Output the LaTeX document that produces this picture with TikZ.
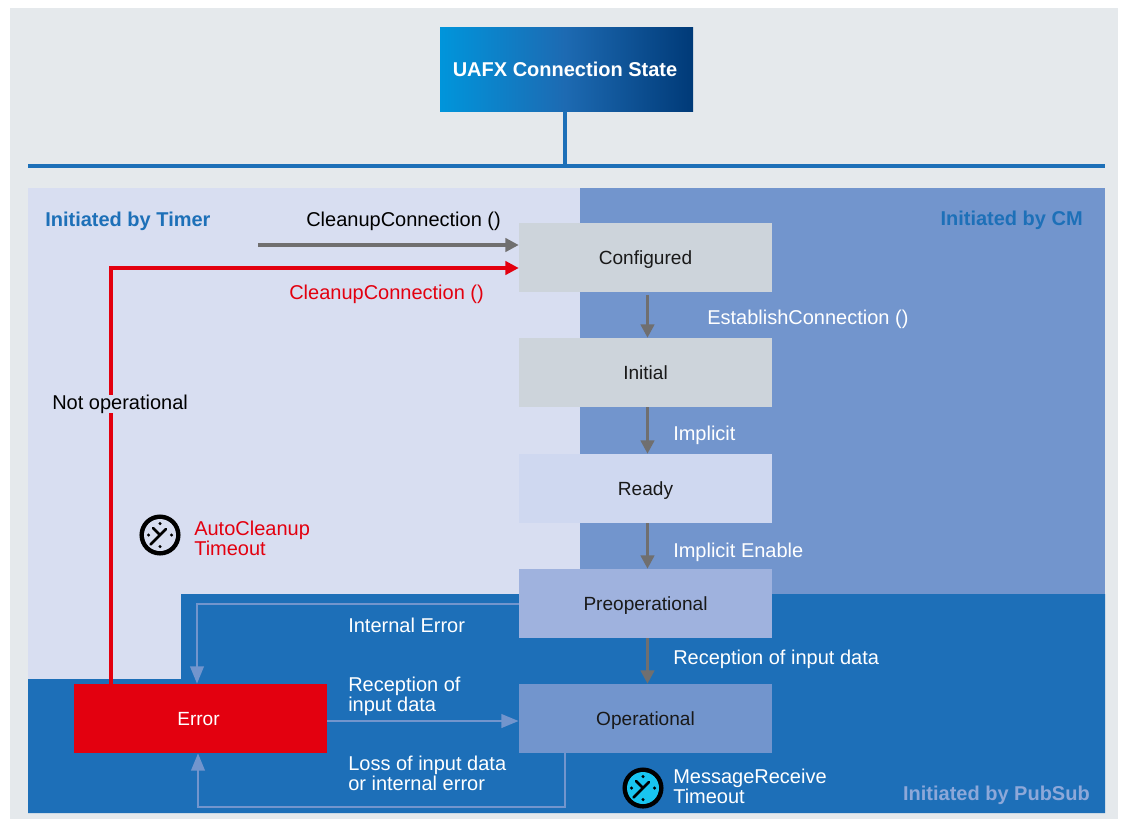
\documentclass[tikz,border=0pt]{standalone}
\usepackage{fontspec}
\setmainfont{Liberation Sans}
\usetikzlibrary{arrows.meta}
\definecolor{pagegray}{HTML}{E5E9EC}
\definecolor{timerbg}{HTML}{D8DEF1}
\definecolor{cmbg}{HTML}{7295CD}
\definecolor{pubbg}{HTML}{1D6FB8}
\definecolor{headblue}{HTML}{1D70B8}
\definecolor{boxgray}{HTML}{CDD4DB}
\definecolor{boxready}{HTML}{CFD8F0}
\definecolor{boxpre}{HTML}{9FB2DE}
\definecolor{boxop}{HTML}{7295CD}
\definecolor{errred}{HTML}{E3000F}
\definecolor{arrgray}{HTML}{706F6F}
\definecolor{lightarr}{HTML}{7295CD}
\definecolor{pubtext}{HTML}{8DA8D9}
\definecolor{clockcyan}{HTML}{18C5F0}
\definecolor{gradA}{HTML}{0095DB}
\definecolor{gradB}{HTML}{1D6AB2}
\definecolor{gradC}{HTML}{003A78}
\tikzset{
  x=0.75pt,y=-0.75pt,
  statebox/.style={minimum width=189.75pt,minimum height=51.75pt,inner sep=0pt,text height=10.3pt,text depth=0pt,font=\fontsize{14.3}{15}\selectfont,text=black!90},
  lbl/.style={anchor=west,inner sep=0pt,align=left,font=\fontsize{15}{15}\selectfont},
  head/.style={inner sep=0pt,font=\bfseries\fontsize{15}{15}\selectfont},
  grayarrow/.style={draw=arrgray,line width=2.4pt,-{Triangle[length=10pt,width=10pt]}},
  redarrow/.style={draw=errred,line width=2.3pt,-{Triangle[length=10pt,width=10pt]}},
  lightarrow/.style={draw=lightarr,line width=2.1pt,-{Triangle[length=13pt,width=10pt]}},
  busline/.style={draw=headblue,line width=2.3pt},
}
\newcommand{\clockicon}[3]{%
  \begin{scope}[shift={(#1,#2)}]
    \fill[black] (0,0) circle [radius=15.4pt];
    \fill[#3] (0,0) circle [radius=12pt];
    \fill[black] (0,-11.5) circle [radius=1.3pt] (0,11.5) circle [radius=1.3pt] (-11.5,0) circle [radius=1.3pt] (11.5,0) circle [radius=1.3pt];
    \draw[black,line width=1.9pt,line cap=round] (-9.5,9.5) -- (0,0) -- (6,-6) (0,0) -- (-7,-7);
  \end{scope}}
\begin{document}
\begin{tikzpicture}
\useasboundingbox (0,0) rectangle (1123,819);
\fill[white] (0,0) rectangle (1123,819);
\fill[pagegray] (10,8) rectangle (1118,819);
% regions
\fill[timerbg] (28,188) rectangle (580,679);
\fill[cmbg] (580,188) rectangle (1105,594);
\fill[pubbg] (181,594) -- (1105,594) -- (1105,813) -- (28,813) -- (28,679) -- (181,679) -- cycle;
% title
\fill[left color=gradA,right color=gradB] (440,27) rectangle (565,111);
\fill[left color=gradB,right color=gradC] (565,27) rectangle (693,111);
\node[inner sep=0pt,minimum width=189.75pt,minimum height=63pt,text=white,font=\bfseries\fontsize{15}{16}\selectfont] (title) at (565,69) {UAFX Connection State};
\coordinate (busL) at (28,166);
\coordinate (busR) at (1105,166);
\coordinate (busM) at (565,166);
\draw[busline] (busL) -- (busR);
\draw[busline] (busM) -- (busM |- title.south);
% states
\node[statebox,fill=boxgray] (conf) at (645.5,257.5) {Configured};
\node[statebox,fill=boxgray] (init) at (645.5,372.5) {Initial};
\node[statebox,fill=boxready] (ready) at (645.5,488.5) {Ready};
\node[statebox,fill=boxpre] (pre) at (645.5,603.5) {Preoperational};
\node[statebox,fill=boxop] (oper) at (645.5,718.5) {Operational};
\node[statebox,fill=errred,text=white] (err) at (200.5,718.5) {Error\kern3pt};
% vertical arrows
\coordinate (vA) at (647.5,0);
\draw[grayarrow,shorten <=2pt] (vA |- conf.south) -- (vA |- init.north);
\draw[grayarrow] (vA |- init.south) -- (vA |- ready.north);
\draw[grayarrow] (vA |- ready.south) -- (vA |- pre.north);
\draw[grayarrow] (vA |- pre.south) -- (vA |- oper.north);
% top arrows
\coordinate (cleanS) at (258,245);
\draw[grayarrow] (cleanS) -- (cleanS -| conf.west);
\coordinate (redY) at (111,268);
\draw[redarrow] (redY |- err.north) -- (redY) -- (redY -| conf.west);
% light arrows
\coordinate (ieY) at (197,604);
\draw[lightarrow] (ieY -| pre.west) -- (ieY) -- (ieY |- err.north);
\coordinate (rcY) at (0,721);
\draw[lightarrow] (rcY -| err.east) -- (rcY -| oper.west);
\coordinate (lsA) at (565,807);
\coordinate (lsB) at (198,807);
\draw[lightarrow] (lsA |- oper.south) -- (lsA) -- (lsB) -- (lsB |- err.south);
% labels
\node[head,text=headblue,anchor=west] (hT) at (45,221) {Initiated by Timer};
\node[head,text=headblue,anchor=east] (hC) at (1083,220) {Initiated by CM};
\node[head,text=pubtext,anchor=east] (hP) at (1090,795) {Initiated by PubSub};
\node[lbl,text=black] (l1) at (306,221) {CleanupConnection ()};
\node[lbl,text=errred] (l2) at (289,294) {CleanupConnection ()};
\node[lbl,text=white] (l3) at (707,319) {EstablishConnection ()};
\node[lbl,text=white] (l4) at (673,435) {Implicit};
\node[lbl,text=white] (l5) at (673,552) {Implicit Enable};
\node[lbl,text=white] (l6) at (673,659) {Reception of input data};
\node[lbl,text=white] (l7) at (348,625) {Internal Error};
\node[lbl,text=white] (l8) at (348,696) {Reception of\\input data};
\node[lbl,text=white] (l9) at (348,773) {Loss of input data\\or internal error};
\node[lbl,text=black,fill=timerbg] (l10) at (52,404) {Not operational};
\node[lbl,text=errred] (l11) at (194,538) {AutoCleanup\\Timeout};
\node[lbl,text=white] (l12) at (673,786) {MessageReceive\\Timeout};
\clockicon{160}{535}{timerbg}
\clockicon{643}{788}{clockcyan}
\end{tikzpicture}
\end{document}
